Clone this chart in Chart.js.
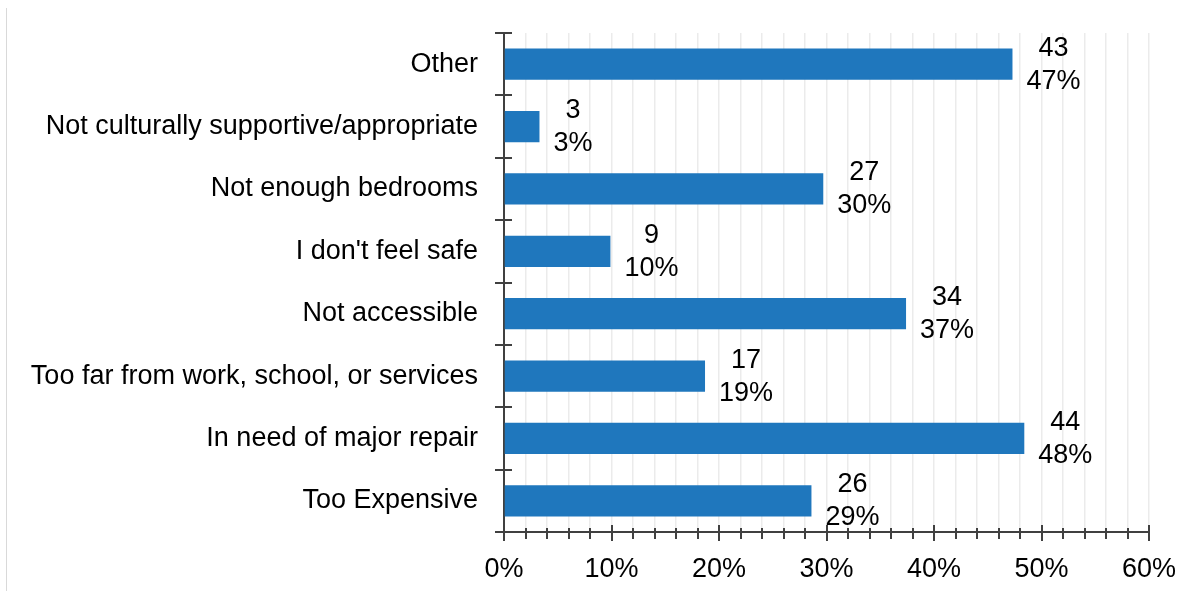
<!DOCTYPE html>
<html lang="en">
<head>
    <meta charset="UTF-8">
    <title>Reasons</title>
    <script src="https://cdn.jsdelivr.net/npm/chart.js"></script>
    <style>
        html, body { margin: 0; padding: 0; background: #fff; }
        .wrap { position: relative; width: 1182px; height: 591px; }
        .edge { position: absolute; left: 6px; top: 8px; bottom: 0; width: 1px; background: #d9d9d9; }
        canvas { display: block; }
    </style>
</head>
<body>
    <div class="wrap">
        <div class="edge"></div>
        <canvas id="reasonsChart" width="1182" height="591"></canvas>
    </div>

    <script>
        const categories = [
            'Other',
            'Not culturally supportive/appropriate',
            'Not enough bedrooms',
            "I don't feel safe",
            'Not accessible',
            'Too far from work, school, or services',
            'In need of major repair',
            'Too Expensive'
        ];
        const counts = [43, 3, 27, 9, 34, 17, 44, 26];
        const percents = [47.3, 3.3, 29.7, 9.9, 37.4, 18.7, 48.4, 28.6];
        const xTickLabels = ['0%', '10%', '20%', '30%', '40%', '50%', '60%'];

        const FONT = 'Arial, "Liberation Sans", sans-serif';
        const FONT_SIZE = 27;
        const AXIS_COLOR = '#404040';

        // count and percentage stacked to the right of each bar
        const barLabels = {
            id: 'barLabels',
            afterDatasetsDraw(chart) {
                const ctx = chart.ctx;
                const meta = chart.getDatasetMeta(0);
                ctx.save();
                ctx.font = FONT_SIZE + 'px ' + FONT;
                ctx.fillStyle = '#000';
                ctx.textAlign = 'center';
                ctx.textBaseline = 'middle';
                meta.data.forEach((bar, i) => {
                    const top = String(counts[i]);
                    const bottom = Math.round(percents[i]) + '%';
                    const w = Math.max(ctx.measureText(top).width, ctx.measureText(bottom).width);
                    const cx = bar.x + 14 + w / 2;
                    ctx.fillText(top, cx, bar.y - 16);
                    ctx.fillText(bottom, cx, bar.y + 17);
                });
                ctx.restore();
            }
        };

        // tick marks crossing both axis lines
        const axisTicks = {
            id: 'axisTicks',
            afterDraw(chart) {
                const ctx = chart.ctx;
                const x = chart.scales.x;
                const y = chart.scales.y;
                const area = chart.chartArea;
                ctx.save();
                ctx.strokeStyle = AXIS_COLOR;
                ctx.lineWidth = 2;
                ctx.beginPath();
                x.ticks.forEach(t => {
                    const px = Math.round(x.getPixelForValue(t.value));
                    const major = t.value % 10 === 0;
                    ctx.moveTo(px, area.bottom - (major ? 7 : 4));
                    ctx.lineTo(px, area.bottom + (major ? 9 : 7));
                });
                const half = (y.getPixelForValue(1) - y.getPixelForValue(0)) / 2;
                for (let i = 0; i <= categories.length; i++) {
                    const py = Math.round(y.getPixelForValue(0) - half + i * half * 2);
                    ctx.moveTo(area.left - 9, py);
                    ctx.lineTo(area.left + 8, py);
                }
                ctx.stroke();
                ctx.restore();
            }
        };

        const ctx = document.getElementById('reasonsChart').getContext('2d');
        new Chart(ctx, {
            type: 'bar',
            data: {
                labels: categories,
                datasets: [{
                    data: percents,
                    backgroundColor: '#1f77bd',
                    borderWidth: 0,
                    barPercentage: 0.5,
                    categoryPercentage: 1.0
                }]
            },
            options: {
                indexAxis: 'y',
                responsive: false,
                animation: false,
                layout: { padding: { top: 33, right: 33, left: 0, bottom: 0 } },
                plugins: {
                    legend: { display: false },
                    tooltip: { enabled: false }
                },
                scales: {
                    x: {
                        min: 0,
                        max: 60,
                        grid: { color: '#ebebeb', lineWidth: 1.5, drawTicks: false },
                        border: { color: AXIS_COLOR, width: 2 },
                        ticks: {
                            stepSize: 2,
                            autoSkip: false,
                            maxRotation: 0,
                            padding: 21,
                            color: '#000',
                            font: { family: FONT, size: FONT_SIZE },
                            callback: v => (v % 10 === 0 ? xTickLabels[v / 10] : '')
                        },
                        afterFit: s => { s.height = 59; s.paddingLeft = 0; s.paddingRight = 0; }
                    },
                    y: {
                        grid: { display: false, drawTicks: false },
                        border: { color: AXIS_COLOR, width: 2 },
                        ticks: {
                            padding: 26,
                            color: '#000',
                            font: { family: FONT, size: FONT_SIZE }
                        },
                        afterFit: s => { s.width = 504; s.paddingTop = 0; s.paddingBottom = 0; }
                    }
                }
            },
            plugins: [barLabels, axisTicks]
        });
    </script>
</body>
</html>
